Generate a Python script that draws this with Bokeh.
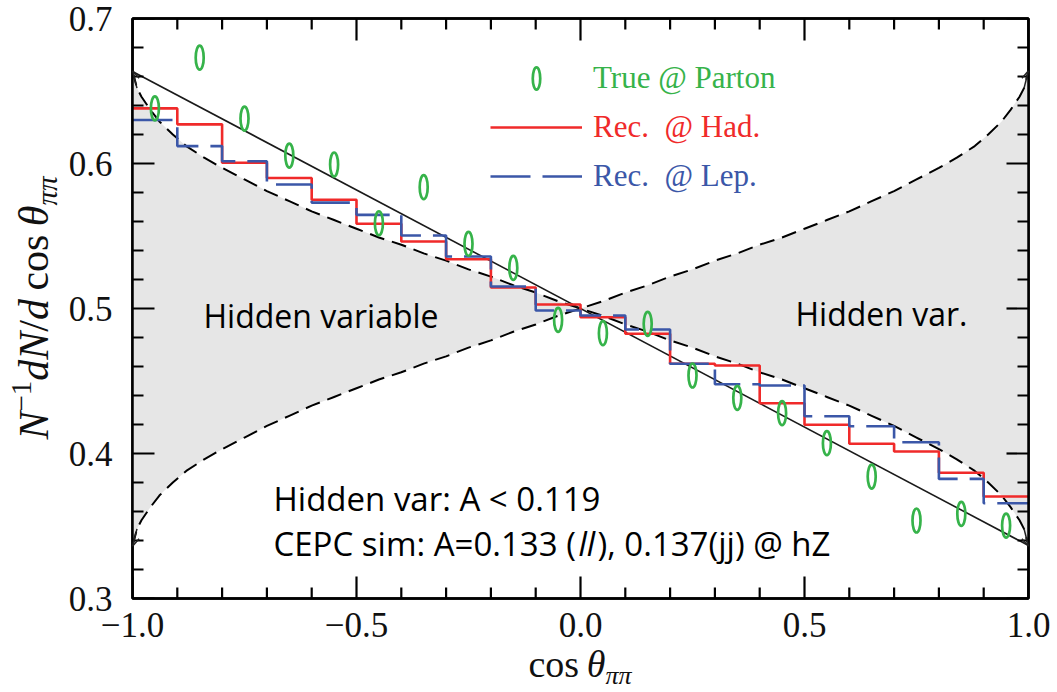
from bokeh.plotting import figure
from bokeh.models import (Range1d, LinearAxis, FixedTicker, Label, Legend, LegendItem, Div,
                          Arrow, OpenHead)
from bokeh.layouts import row, column
from bokeh.embed import file_html
from bokeh.resources import INLINE

# ---------------- data ----------------
bin_edges = [-1.0, -0.9, -0.8, -0.7, -0.6, -0.5, -0.4, -0.3, -0.2, -0.1, 0.0,
             0.1, 0.2, 0.3, 0.4, 0.5, 0.6, 0.7, 0.8, 0.9, 1.0]
bin_centers = [-0.95, -0.85, -0.75, -0.65, -0.55, -0.45, -0.35, -0.25, -0.15, -0.05,
               0.05, 0.15, 0.25, 0.35, 0.45, 0.55, 0.65, 0.75, 0.85, 0.95]
rec_had = [0.638, 0.627, 0.6005, 0.590, 0.575, 0.5584, 0.5462, 0.534, 0.5145, 0.5028,
           0.494, 0.4826, 0.4619, 0.4607, 0.4347, 0.4198, 0.4067, 0.4014, 0.3867, 0.3703]
rec_lep = [0.630, 0.612, 0.6016, 0.5855, 0.573, 0.5646, 0.5503, 0.5359, 0.5152, 0.4986,
           0.4952, 0.4855, 0.4619, 0.4478, 0.4469, 0.4257, 0.4188, 0.4078, 0.3825, 0.3657]
true_parton = [0.638, 0.673, 0.631, 0.6055, 0.5993, 0.5588, 0.5837, 0.5446, 0.528, 0.4922,
               0.483, 0.4894, 0.4538, 0.4384, 0.4278, 0.4071, 0.3841, 0.3538, 0.3584, 0.3503]
line_x = [-1.0, 1.0]
line_y = [0.6635, 0.3365]
hv_x = [-1.0, -0.99, -0.98, -0.96, -0.94, -0.91, -0.88, -0.84, -0.8, -0.75, -0.7, -0.65,
        -0.6, -0.55, -0.5, -0.45, -0.4, -0.35, -0.3, -0.25, -0.2, -0.15, -0.1, -0.05, 0.0,
        0.05, 0.1, 0.15, 0.2, 0.25, 0.3, 0.35, 0.4, 0.45, 0.5, 0.55, 0.6, 0.65, 0.7, 0.75,
        0.8, 0.84, 0.88, 0.91, 0.94, 0.96, 0.98, 0.99, 1.0]
hv_down = [0.664, 0.652, 0.646, 0.637, 0.629, 0.620, 0.612, 0.604, 0.597, 0.589, 0.581, 0.574,
           0.567, 0.561, 0.555, 0.549, 0.544, 0.538, 0.533, 0.527, 0.522, 0.516, 0.511, 0.505, 0.500,
           0.495, 0.489, 0.484, 0.478, 0.473, 0.467, 0.462, 0.456, 0.451, 0.445, 0.439, 0.433, 0.426,
           0.419, 0.411, 0.403, 0.396, 0.388, 0.380, 0.371, 0.363, 0.354, 0.348, 0.336]
hv_up = [0.336, 0.348, 0.354, 0.363, 0.371, 0.380, 0.388, 0.396, 0.403, 0.411, 0.419, 0.426,
         0.433, 0.439, 0.445, 0.451, 0.456, 0.462, 0.467, 0.473, 0.478, 0.484, 0.489, 0.495, 0.500,
         0.505, 0.511, 0.516, 0.522, 0.527, 0.533, 0.538, 0.544, 0.549, 0.555, 0.561, 0.567, 0.574,
         0.581, 0.589, 0.597, 0.604, 0.612, 0.620, 0.629, 0.637, 0.646, 0.652, 0.664]

x_major = [-1.0, -0.5, 0.0, 0.5, 1.0]
x_tick_labels = ["\u22121.0", "\u22120.5", "0.0", "0.5", "1.0"]
x_minor = [-0.9, -0.8, -0.7, -0.6, -0.4, -0.3, -0.2, -0.1, 0.1, 0.2, 0.3, 0.4, 0.6, 0.7, 0.8, 0.9]
y_major = [0.3, 0.4, 0.5, 0.6, 0.7]
y_tick_labels = ["0.3", "0.4", "0.5", "0.6", "0.7"]
y_minor = [0.32, 0.34, 0.36, 0.38, 0.42, 0.44, 0.46, 0.48, 0.52, 0.54, 0.56, 0.58,
           0.62, 0.64, 0.66, 0.68]

GREEN = "#36b34a"
RED = "#f02a2a"
BLUE = "#3b57a8"
GRAY = "#e6e6e6"
SERIF = "Liberation Serif"
SANS = "Open Sans"

X0, X1, Y0, Y1 = -1.0, 1.0, 0.3, 0.7

p = figure(width=997, height=650, x_range=Range1d(X0, X1), y_range=Range1d(Y0, Y1),
           output_backend="svg", toolbar_location=None,
           x_axis_location=None, y_axis_location=None,
           min_border_left=72, min_border_right=29, min_border_top=18, min_border_bottom=52,
           margin=0)
p.xgrid.visible = False
p.ygrid.visible = False
p.outline_line_color = "black"
p.outline_line_width = 2.5
p.background_fill_color = "white"
p.border_fill_color = "white"


def style_axis(ax, show_labels, standoff):
    ax.axis_line_width = 2.5
    ax.axis_line_color = "black"
    ax.major_tick_in = 0
    ax.major_tick_out = 0
    ax.minor_tick_in = 0
    ax.minor_tick_out = 0
    if show_labels:
        ax.major_label_text_font = SERIF
        ax.major_label_text_font_size = "35px"
        ax.major_label_text_color = "#111111"
        ax.major_label_standoff = standoff
    else:
        ax.major_label_text_font_size = "0px"
        ax.major_label_standoff = 0


xb = LinearAxis(ticker=FixedTicker(ticks=x_major, minor_ticks=x_minor))
xb.major_label_overrides = dict(zip(x_major, x_tick_labels))
style_axis(xb, True, 14)
p.add_layout(xb, "below")
xt = LinearAxis(ticker=FixedTicker(ticks=x_major, minor_ticks=x_minor))
xt.major_label_overrides = {k: "" for k in x_major}
style_axis(xt, False, 0)
p.add_layout(xt, "above")
yl = LinearAxis(ticker=FixedTicker(ticks=y_major, minor_ticks=y_minor))
yl.major_label_overrides = dict(zip(y_major, y_tick_labels))
style_axis(yl, True, 20)
p.add_layout(yl, "left")
yr = LinearAxis(ticker=FixedTicker(ticks=y_major, minor_ticks=y_minor))
yr.major_label_overrides = {k: "" for k in y_major}
style_axis(yr, False, 0)
p.add_layout(yr, "right")

# hidden-variable band
p.varea(x=hv_x, y1=hv_down, y2=hv_up, fill_color=GRAY, fill_alpha=1.0)
p.line(hv_x, hv_down, line_color="black", line_width=2, line_dash="15 8")
p.line(hv_x, hv_up, line_color="black", line_width=2, line_dash="15 8")
# small arrow heads at the ends of the bound curves
for xs, ys, xe, ye in [(hv_x[1], hv_down[1], hv_x[0], hv_down[0]),
                       (hv_x[1], hv_up[1], hv_x[0], hv_up[0]),
                       (hv_x[-2], hv_down[-2], hv_x[-1], hv_down[-1]),
                       (hv_x[-2], hv_up[-2], hv_x[-1], hv_up[-1])]:
    p.add_layout(Arrow(x_start=xs, y_start=ys, x_end=xe, y_end=ye, line_width=1.5,
                       line_color="#222222",
                       end=OpenHead(size=9, line_width=1.5, line_color="#222222")))
p.line(line_x, line_y, line_color="#1a1a1a", line_width=1.6)

r_had = p.step(x=bin_edges, y=rec_had + [rec_had[-1]], mode="after",
               line_color=RED, line_width=2.6)
r_lep = p.step(x=bin_edges, y=rec_lep + [rec_lep[-1]], mode="after",
               line_color=BLUE, line_width=2.6, line_dash="40 12")
r_true = p.ellipse(x=bin_centers, y=true_parton, width=8, height=24,
                   width_units="screen", height_units="screen",
                   fill_color=None, line_color=GREEN, line_width=2.7)

# inward ticks on all four sides (drawn as rays from the frame edges)
tick_kw = dict(length_units="screen", angle_units="deg", line_color="black", line_width=2.2)
p.ray(x=x_major, y=[Y0] * len(x_major), length=22, angle=90, **tick_kw)
p.ray(x=x_minor, y=[Y0] * len(x_minor), length=11, angle=90, **tick_kw)
p.ray(x=x_major, y=[Y1] * len(x_major), length=22, angle=-90, **tick_kw)
p.ray(x=x_minor, y=[Y1] * len(x_minor), length=11, angle=-90, **tick_kw)
p.ray(x=[X0] * len(y_major), y=y_major, length=22, angle=0, **tick_kw)
p.ray(x=[X0] * len(y_minor), y=y_minor, length=11, angle=0, **tick_kw)
p.ray(x=[X1] * len(y_major), y=y_major, length=22, angle=180, **tick_kw)
p.ray(x=[X1] * len(y_minor), y=y_minor, length=11, angle=180, **tick_kw)

# legends (one per entry so each label gets its own colour)
legend_specs = [("True @ Parton", r_true, GREEN, (358, 502)),
                ("Rec.  @ Had.", r_had, RED, (358, 453)),
                ("Rec.  @ Lep.", r_lep, BLUE, (358, 404))]
for lab, rend, col, loc in legend_specs:
    lg = Legend(items=[LegendItem(label=lab, renderers=[rend])], location=loc,
                glyph_width=92, glyph_height=28, label_standoff=11,
                label_text_font=SERIF, label_text_font_size="31px", label_text_color=col,
                border_line_color=None, background_fill_alpha=0, padding=0, margin=0,
                spacing=0)
    p.add_layout(lg)


def add_label(text, x, y, size, font=SANS, style="normal", color="black"):
    p.add_layout(Label(x=x, y=y, x_units="screen", y_units="screen", text=text,
                       text_font=font, text_font_size=size, text_font_style=style,
                       text_color=color, text_baseline="alphabetic", text_align="left"))


add_label("Hidden variable", 71, 283, "32px")
add_label("Hidden var.", 663, 285, "32px")
add_label("Hidden var: A < 0.119", 141, 100, "33px")
add_label("CEPC sim: A=0.133 (", 141, 55, "33px")
add_label("ll", 446, 55, "33px", style="italic")
add_label("), 0.137(jj) @ hZ", 465, 55, "33px")

# axis titles as HTML (math-style italics, sub/superscripts)
ylabel_html = (
    '<div style="position:relative;width:60px;height:650px;">'
    '<div style="position:absolute;left:0;top:0;transform-origin:0 0;'
    'transform:translate(13px,308px) rotate(-90deg) translate(-50%,0);'
    "white-space:nowrap;font-family:'Liberation Serif';font-size:42px;line-height:42px;color:#111;\">"
    '<i>N</i><span style="font-size:29px;position:relative;top:-17px;">\u22121</span>'
    '<i>dN</i>/<i>d</i>\u2009cos\u2009<i>\u03b8</i>'
    '<span style="font-size:29px;font-style:italic;position:relative;top:9px;">\u03c0\u03c0</span>'
    '</div></div>'
)
xlabel_html = (
    '<div style="position:relative;width:1057px;height:42px;">'
    '<div style="position:absolute;left:580px;top:0;transform:translateX(-50%);'
    "white-space:nowrap;font-family:'Liberation Serif';font-size:38px;line-height:28px;color:#111;\">"
    'cos\u2009<i>\u03b8</i>'
    '<span style="font-size:26px;font-style:italic;position:relative;top:7px;">\u03c0\u03c0</span>'
    '</div></div>'
)
ydiv = Div(text=ylabel_html, width=60, height=650, margin=0)
xdiv = Div(text=xlabel_html, width=1057, height=42, margin=0)

layout = column(row(ydiv, p, margin=0, spacing=0), xdiv, margin=0, spacing=0)

open("out.html", "w").write(file_html(layout, INLINE))
